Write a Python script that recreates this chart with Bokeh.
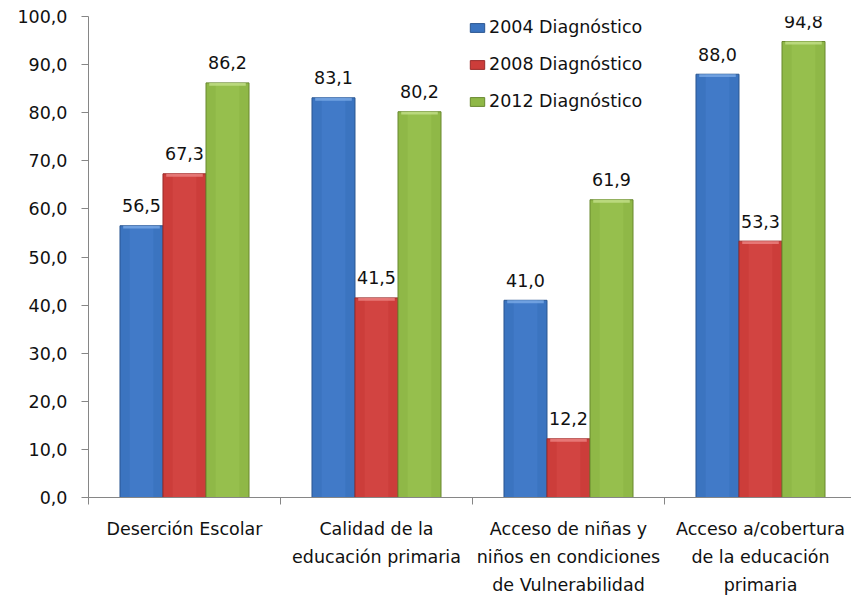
from bokeh.plotting import figure
from bokeh.models import Range1d, FixedTicker, Legend, LegendItem, LinearAxis, ColumnDataSource
from bokeh.embed import file_html
from bokeh.resources import INLINE
from bokeh.core.properties import value

categories = ["Deserción Escolar",
              "Calidad de la\neducación primaria",
              "Acceso de niñas y\nniños en condiciones\nde Vulnerabilidad",
              "Acceso a/cobertura\nde la educación\nprimaria"]
series_names = ["2004 Diagnóstico", "2008 Diagnóstico", "2012 Diagnóstico"]
values_2004 = [56.5, 83.1, 41.0, 88.0]
values_2008 = [67.3, 41.5, 12.2, 53.3]
values_2012 = [86.2, 80.2, 61.9, 94.8]
y_ticks = [0, 10, 20, 30, 40, 50, 60, 70, 80, 90, 100]

series_values = [values_2004, values_2008, values_2012]
fills = ["#3b74c0", "#cc3d3a", "#8fb847"]
edges = ["#2a5690", "#992b29", "#68882f"]
lights = ["#4d88d6", "#de5250", "#a2cb58"]
tops = ["#7aaae6", "#ec8583", "#c3e08a"]

FONT = "DejaVu Sans"
FS = "17.5px"

p = figure(width=851, height=597, output_backend="svg", toolbar_location=None,
           x_range=Range1d(0, 763 / 192), y_range=Range1d(0, 100),
           min_border_left=88, min_border_right=0, min_border_top=16, min_border_bottom=98,
           x_axis_type=None, y_axis_type=None)
p.outline_line_color = None
p.xgrid.visible = False
p.ygrid.visible = False
p.background_fill_color = "white"
p.border_fill_color = "white"

bar_w = 0.224
offsets = [-bar_w, 0.0, bar_w]
renderers = []
for k, vals in enumerate(series_values):
    xs = [i + 0.5 + offsets[k] for i in range(len(categories))]
    src = ColumnDataSource(dict(x=xs, top=vals, bevel=[v - 0.6 for v in vals],
                                lab=[f"{v:.1f}".replace(".", ",") for v in vals]))
    r = p.vbar(x="x", top="top", bottom=0, width=bar_w, source=src,
               fill_color=fills[k], line_color=edges[k], line_width=1)
    renderers.append(r)
    # soft highlight in the middle of each bar
    p.vbar(x="x", top="top", bottom=0, width=bar_w * 0.55, source=src,
           fill_color=lights[k], fill_alpha=0.35, line_color=None)
    # light bevel at the top of each bar
    p.vbar(x="x", top="top", bottom="bevel", width=bar_w * 0.85, source=src,
           fill_color=tops[k], fill_alpha=0.8, line_color=None)
    p.text(x="x", y="top", text="lab", source=src, text_align="center",
           text_baseline="alphabetic", y_offset=-20,
           text_font=value(FONT), text_font_size=FS, text_color="#111111")

# axes
yaxis = LinearAxis(ticker=FixedTicker(ticks=y_ticks),
                   major_label_overrides={t: f"{t},0" for t in y_ticks})
yaxis.axis_line_color = "#868686"
yaxis.major_tick_line_color = "#868686"
yaxis.major_tick_out = 7
yaxis.major_tick_in = 0
yaxis.minor_tick_line_color = None
yaxis.major_label_standoff = 14
yaxis.major_label_text_font = FONT
yaxis.major_label_text_font_size = FS
yaxis.major_label_text_color = "#111111"
p.add_layout(yaxis, "left")

xaxis_ticks = LinearAxis(ticker=FixedTicker(ticks=list(range(len(categories)))),
                         major_label_text_font_size="0px")
xaxis_ticks.axis_line_color = "#868686"
xaxis_ticks.major_tick_line_color = "#868686"
xaxis_ticks.major_tick_out = 7
xaxis_ticks.major_tick_in = 0
xaxis_ticks.minor_tick_line_color = None
xaxis_ticks.major_label_standoff = 0
xaxis_ticks.major_label_overrides = {i: "" for i in range(len(categories))}
p.add_layout(xaxis_ticks, "below")

centers = [i + 0.5 for i in range(len(categories))]
xaxis_lab = LinearAxis(ticker=FixedTicker(ticks=centers),
                       major_label_overrides={c: categories[i] for i, c in enumerate(centers)})
xaxis_lab.axis_line_color = None
xaxis_lab.major_tick_line_color = None
xaxis_lab.minor_tick_line_color = None
xaxis_lab.major_label_standoff = 8
xaxis_lab.major_label_text_font = FONT
xaxis_lab.major_label_text_font_size = FS
xaxis_lab.major_label_text_color = "#111111"
xaxis_lab.major_label_text_line_height = 1.4
p.add_layout(xaxis_lab, "below")

legend = Legend(items=[LegendItem(label=series_names[k], renderers=[renderers[k]]) for k in range(3)],
                location=(380, 386), orientation="vertical")
legend.border_line_color = None
legend.background_fill_alpha = 0
legend.padding = 0
legend.margin = 0
legend.glyph_width = 18
legend.glyph_height = 11
legend.label_standoff = 3
legend.label_height = 20
legend.spacing = 17
legend.label_text_font = FONT
legend.label_text_font_size = FS
legend.label_text_color = "#111111"
p.add_layout(legend, "center")

open("out.html", "w").write(file_html(p, INLINE))
